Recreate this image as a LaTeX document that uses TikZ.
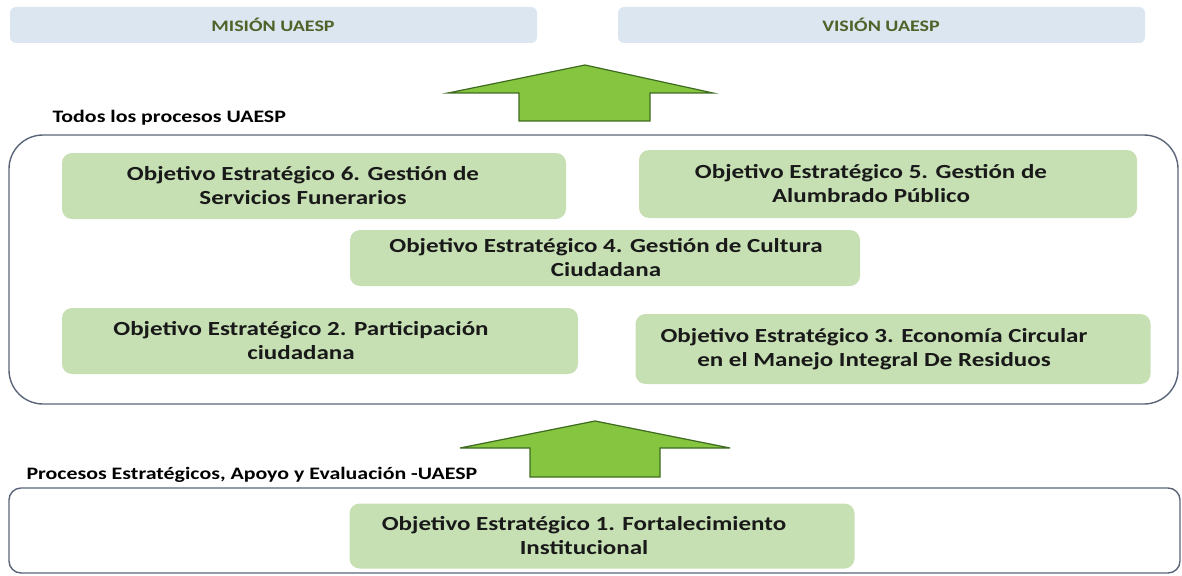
\documentclass[tikz,border=0pt]{standalone}
\usepackage{fontspec}
\setmainfont{Carlito}[FakeStretch=1.25]
\definecolor{hdrfill}{HTML}{DCE6F1}
\definecolor{hdrtext}{HTML}{4F6228}
\definecolor{objfill}{HTML}{C6E0B4}
\definecolor{arrowfill}{HTML}{86C540}
\definecolor{arrowline}{HTML}{3E6B1F}
\definecolor{frameline}{HTML}{5B6579}
\tikzset{
  hdrbox/.style={fill=hdrfill, rounded corners=6pt, draw=none},
  hdrtxt/.style={text=hdrtext, font=\fontsize{16}{19}\selectfont\bfseries},
  objbox/.style={fill=objfill, rounded corners=10pt, draw=none},
  objtxt/.style={align=center, text=black!90, font=\fontsize{20}{24}\selectfont\bfseries},
  frame/.style={draw=frameline, line width=1.4pt},
  blockarrow/.style={fill=arrowfill, draw=arrowline, line width=1.2pt, line join=miter},
  lbl/.style={anchor=west, text=black, font=\fontsize{17.5}{20}\selectfont\bfseries},
}
\begin{document}
\begin{tikzpicture}[x=1pt,y=-1pt]
\useasboundingbox (0,0) rectangle (1182,575);
% headers
\fill[hdrbox] (10,7) rectangle (537,43);
\node[hdrtxt] (mision) at (273,25) {MISIÓN UAESP};
\fill[hdrbox] (618,7) rectangle (1145,43);
\node[hdrtxt] (vision) at (881,25) {VISIÓN UAESP};
% top arrow
\draw[blockarrow] (448,93) -- (585,65) -- (713,93) -- (650,93) -- (650,121) -- (519,121) -- (519,93) -- cycle;
% label
\node[lbl] (todos) at (49,118) {Todos los procesos UAESP};
% big frame
\draw[frame, rounded corners=34pt] (9,135) rectangle (1178,404);
% objective boxes
\node[objbox, minimum width=504pt, minimum height=66pt] (b6) at (314,186) {};
\node[objtxt] (t6) at (303,186) {Objetivo Estratégico 6. Gestión de\\Servicios Funerarios};
\node[objbox, minimum width=498pt, minimum height=68pt] (b5) at (888,184) {};
\node[objtxt] (t5) at (871,184) {Objetivo Estratégico 5. Gestión de\\Alumbrado Público};
\node[objbox, minimum width=510pt, minimum height=56pt] (b4) at (605,258) {};
\node[objtxt] (t4) at (606,258) {Objetivo Estratégico 4. Gestión de Cultura\\Ciudadana};
\node[objbox, minimum width=516pt, minimum height=66pt] (b2) at (320,341) {};
\node[objtxt] (t2) at (301,341) {Objetivo Estratégico 2. Participación\\ciudadana};
\node[objbox, minimum width=515pt, minimum height=70pt] (b3) at (893,349) {};
\node[objtxt] (t3) at (874,349) {Objetivo Estratégico 3. Economía Circular\\en el Manejo Integral De Residuos};
% bottom arrow
\draw[blockarrow] (460,448) -- (595,421) -- (730,448) -- (660,448) -- (660,477) -- (530,477) -- (530,448) -- cycle;
% bottom label
\node[lbl] (procesos) at (23,475) {Procesos Estratégicos, Apoyo y Evaluación -UAESP};
% bottom frame
\draw[frame, rounded corners=12pt] (9,488) rectangle (1180,573);
\node[objbox, minimum width=505pt, minimum height=65pt] (b1) at (602,536) {};
\node[objtxt] (t1) at (584,536) {Objetivo Estratégico 1. Fortalecimiento\\Institucional};
\end{tikzpicture}
\end{document}
